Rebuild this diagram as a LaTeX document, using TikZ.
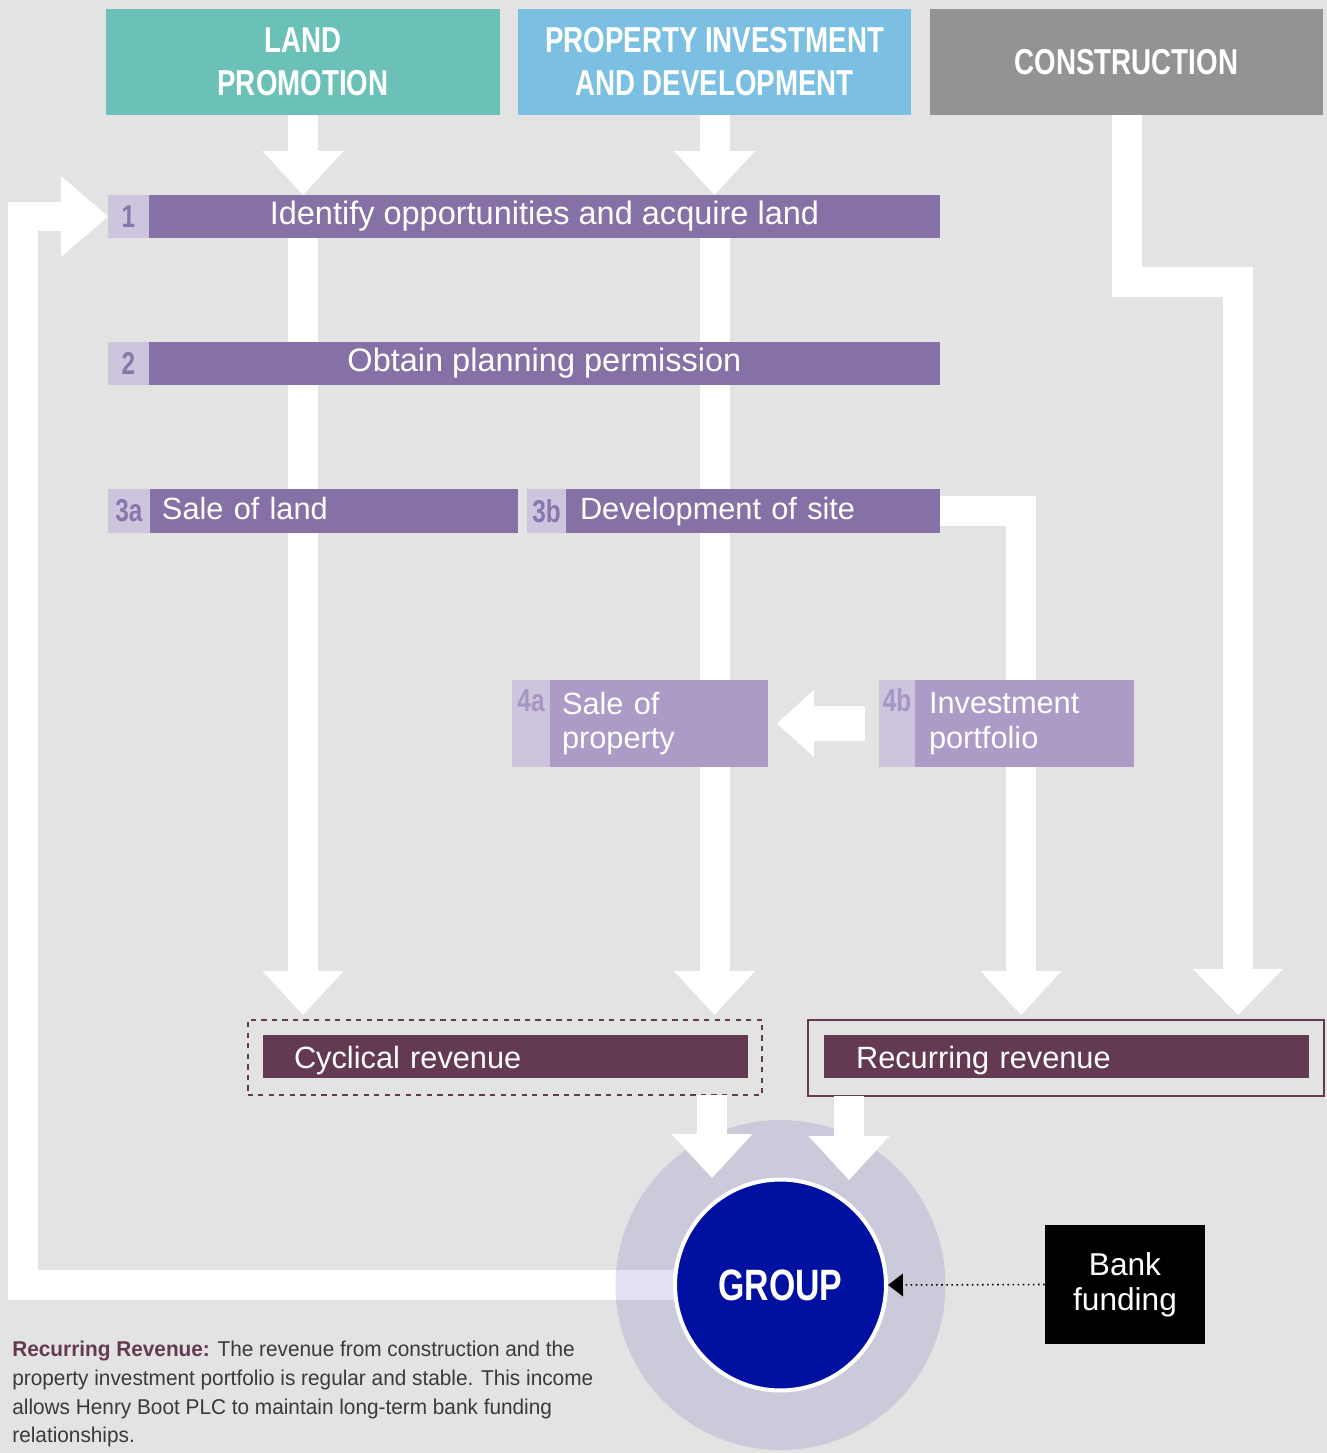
\documentclass[tikz,border=0pt]{standalone}
\usepackage{fontspec}
\setmainfont{Liberation Sans}
\newfontfamily\condfont[FakeStretch=0.77]{Liberation Sans}
\newfontfamily\notefont[FakeStretch=0.97]{Liberation Sans}
\usetikzlibrary{positioning,arrows.meta}
\definecolor{bggray}{HTML}{E3E3E3}
\definecolor{landcol}{HTML}{6BC1B7}
\definecolor{propcol}{HTML}{7BC0E3}
\definecolor{conscol}{HTML}{939393}
\definecolor{steppurple}{HTML}{8671A7}
\definecolor{stepmid}{HTML}{AB9BC6}
\definecolor{steplight}{HTML}{CCC5DD}
\definecolor{numpurple}{HTML}{8A76AC}
\definecolor{numlight}{HTML}{A795C3}
\definecolor{revcol}{HTML}{643A52}
\definecolor{groupblue}{HTML}{0010A0}
\definecolor{ringcol}{RGB}{60,60,170}
\definecolor{notegray}{HTML}{3A3A3A}
\pgfdeclarelayer{bg}
\pgfdeclarelayer{flowlayer}
\pgfsetlayers{bg,flowlayer,main}

\begin{document}
\begin{tikzpicture}[x=0.02cm, y=-0.02cm]
    \tikzset{
        head/.style = {rectangle, minimum width=7.88cm, minimum height=2.12cm, inner sep=0pt, outer sep=0pt,
                       text=white, align=center, font=\condfont\bfseries\fontsize{20.5}{24.5}\selectfont},
        numcell/.style = {rectangle, fill=steplight, text=numpurple, inner sep=0pt, outer sep=0pt,
                          minimum height=0.86cm, font=\condfont\bfseries\fontsize{18}{20}\selectfont},
        stepbar/.style = {rectangle, fill=steppurple, text=white, inner sep=0pt, outer sep=0pt,
                          minimum height=0.86cm, text height=0.46cm, text depth=0.12cm,
                          font=\fontsize{17.5}{19.8}\selectfont},
        tallnum/.style = {numcell, text=numlight, anchor=north, text height=0.62cm, text depth=1.12cm, minimum height=0pt},
        tallbar/.style = {stepbar, fill=stepmid, minimum height=1.74cm, text height=, text depth=, align=left},
        frame/.style = {rectangle, draw=revcol, line width=1.1pt, minimum width=10.3cm, inner sep=0pt, outer sep=0pt},
        revbar/.style = {rectangle, fill=revcol, text=white, minimum width=9.7cm, minimum height=0.86cm, inner sep=0pt,
                         outer sep=0pt, align=left, text height=0.55cm, text depth=0.09cm,
                         font=\fontsize{17.5}{19.8}\selectfont},
        flow/.style = {draw=white, line width=0.6cm, line join=miter,
                       -{Triangle[width=1.62cm, length=0.88cm, line width=0pt]}}
    }
    \useasboundingbox (0,0) rectangle (1327,1453);
    \begin{pgfonlayer}{bg}
        \fill[bggray] (0,0) rectangle (1327,1453);
    \end{pgfonlayer}

    \node[head, fill=landcol] (land) at (303,62) {LAND\\PROMOTION};
    \node[head, fill=propcol] (prop) at (714.5,62) {PROPERTY INVESTMENT\\AND DEVELOPMENT};
    \node[head, fill=conscol] (cons) at (1126.5,62) {CONSTRUCTION};

    \node[numcell, minimum width=0.82cm] (n1) at (128.5,216.5) {1};
    \node[stepbar, minimum width=15.82cm, font=\fontsize{18.5}{20}\selectfont, right=0pt of n1] (s1) {Identify opportunities and acquire land};
    \node[numcell, minimum width=0.82cm] (n2) at (128.5,363.5) {2};
    \node[stepbar, minimum width=15.82cm, font=\fontsize{18.5}{20}\selectfont, right=0pt of n2] (s2) {Obtain planning permission};

    \node[numcell, minimum width=0.84cm, minimum height=0.88cm] (n3a) at (129,511) {3a};
    \node[stepbar, minimum height=0.88cm, inner xsep=0.24cm, text width=6.88cm, align=left, right=0pt of n3a] (s3a) {Sale of land};
    \node[numcell, minimum width=0.78cm, minimum height=0.88cm] (n3b) at (546.5,511) {3b};
    \node[stepbar, minimum height=0.88cm, inner xsep=0.28cm, text width=6.92cm, align=left, right=0pt of n3b] (s3b) {Development of site};

    \node[tallnum, minimum width=0.76cm] (n4a) at (531,680) {4a};
    \node[tallbar, inner xsep=0.24cm, text width=3.88cm, right=0pt of n4a] (s4a) {Sale of\\property};
    \node[tallnum, minimum width=0.72cm] (n4b) at (897,680) {4b};
    \node[tallbar, inner xsep=0.28cm, text width=3.82cm, right=0pt of n4b] (s4b) {Investment\\portfolio};

    \node[frame, dashed, minimum height=1.5cm] (cycframe) at (505,1057.5) {};
    \node[revbar, inner xsep=0.62cm, text width=8.46cm] (cyc) at (505.5,1056.5) {Cyclical revenue};
    \node[frame, minimum width=10.32cm, minimum height=1.52cm] (recframe) at (1066,1058) {};
    \node[revbar, inner xsep=0.64cm, text width=8.42cm] (rec) at (1066.5,1056.5) {Recurring revenue};

    \node[circle, fill=ringcol, fill opacity=0.15, minimum size=6.6cm, inner sep=0pt] (gring) at (780.5,1285) {};
    \coordinate (g1) at (712,1178);
    \coordinate (g2) at (849,1180);
    \draw[flow] (g1 |- cycframe.south) -- (g1);
    \draw[flow] (g2 |- recframe.south) -- (g2);
    \node[circle, fill=groupblue, draw=white, line width=0.08cm, minimum size=4.22cm, inner sep=0pt,
          text=white, font=\condfont\bfseries\fontsize{25}{28}\selectfont] (group) at (780.5,1285) {GROUP};

    \node[rectangle, fill=black, text=white, minimum width=3.2cm, minimum height=2.38cm, align=center,
          font=\fontsize{18}{19.8}\selectfont] (bank) at (1125,1284.5) {Bank\\funding};
    \draw[dotted, line width=0.9pt, -{Triangle[width=0.46cm, length=0.3cm, line width=0pt]}] (bank.west) -- (group.east);

    \node[anchor=north west, inner sep=0pt, align=left, text=notegray, font=\notefont\fontsize{12.2}{16.3}\selectfont] (note) at (12,1341)
        {{\bfseries\color{revcol}Recurring Revenue:} The revenue from construction and the\\
         property investment portfolio is regular and stable. This income\\
         allows Henry Boot PLC to maintain long-term bank funding\\
         relationships.};

    \coordinate (loopx) at (23,0);
    \coordinate (devx) at (1021,0);
    \coordinate (consbend) at (1238,282);
    \begin{pgfonlayer}{flowlayer}
        \draw[flow] (land.south) -- (land.south |- s1.north);
        \draw[flow] (prop.south) -- (prop.south |- s1.north);
        \draw[flow, shorten >=0.1cm] (land.south |- s1.south) -- (land.south |- cycframe.north);
        \draw[flow, shorten >=0.1cm] (prop.south |- s1.south) -- (prop.south |- cycframe.north);
        \draw[flow, shorten >=0.1cm] (s3b.east) -| (devx |- recframe.north);
        \draw[flow, shorten >=0.1cm, -{Triangle[width=1.8cm, length=0.92cm, line width=0pt]}]
            (cons.south) |- (consbend) -- (consbend |- recframe.north);
        \draw[flow, line width=0.7cm, -{Triangle[width=1.34cm, length=0.74cm, line width=0pt]},
              shorten <=0.28cm, shorten >=0.18cm] (n4b.west) -- (s4a.east);
        \draw[flow, -{Triangle[width=1.62cm, length=0.94cm, line width=0pt]}] (group.center) -| (loopx |- n1.west) -- (n1.west);
    \end{pgfonlayer}
\end{tikzpicture}
\end{document}
